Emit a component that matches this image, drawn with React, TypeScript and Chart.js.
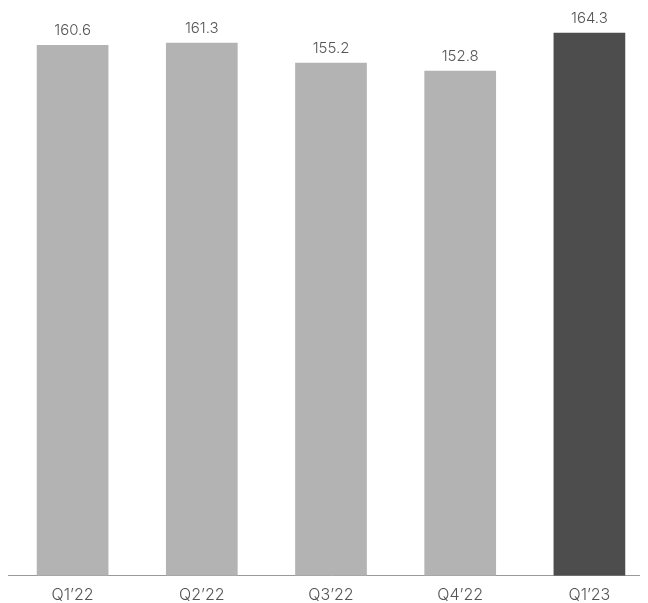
import React, { useEffect, useRef } from "react";
import { Chart, registerables } from "chart.js";

Chart.register(...registerables);

const quarters = ["Q1\u201922", "Q2\u201922", "Q3\u201922", "Q4\u201922", "Q1\u201923"];
const values = [160.6, 161.3, 155.2, 152.8, 164.3];
const barColors = ["#b3b3b3", "#b3b3b3", "#b3b3b3", "#b3b3b3", "#4d4d4d"];

const FONT = "Inter, 'Noto Sans', sans-serif";

const valueLabels = {
  id: "valueLabels",
  afterDatasetsDraw(chart: any) {
    const { ctx } = chart;
    const meta = chart.getDatasetMeta(0);
    ctx.save();
    ctx.font = `300 15px ${FONT}`;
    ctx.fillStyle = "#555555";
    ctx.textAlign = "center";
    ctx.textBaseline = "alphabetic";
    meta.data.forEach((bar: any, i: number) => {
      const v = chart.data.datasets[0].data[i] as number;
      ctx.fillText(v.toFixed(1), bar.x, bar.y - 10);
    });
    ctx.restore();
  },
};

export default function App() {
  const ref = useRef<HTMLCanvasElement | null>(null);

  useEffect(() => {
    if (!ref.current) return;
    const chart = new Chart(ref.current, {
      type: "bar",
      data: {
        labels: quarters,
        datasets: [
          {
            data: values,
            backgroundColor: barColors,
            barPercentage: 0.555,
            categoryPercentage: 1,
          },
        ],
      },
      options: {
        animation: false,
        responsive: false,
        maintainAspectRatio: false,
        layout: { padding: 0 },
        plugins: {
          legend: { display: false },
          tooltip: { enabled: false },
        },
        scales: {
          x: {
            grid: { display: false, drawTicks: false },
            border: { display: true, color: "#999999", width: 1 },
            ticks: {
              color: "#555555",
              padding: 10,
              font: { family: FONT, size: 16, weight: 300 },
            },
          },
          y: {
            display: false,
            min: 0,
            max: 171.8,
          },
        },
      },
      plugins: [valueLabels],
    });
    return () => chart.destroy();
  }, []);

  return (
    <div style={{ width: 646, height: 607 }}>
      <canvas ref={ref} width={646} height={607} style={{ display: "block" }} />
    </div>
  );
}
